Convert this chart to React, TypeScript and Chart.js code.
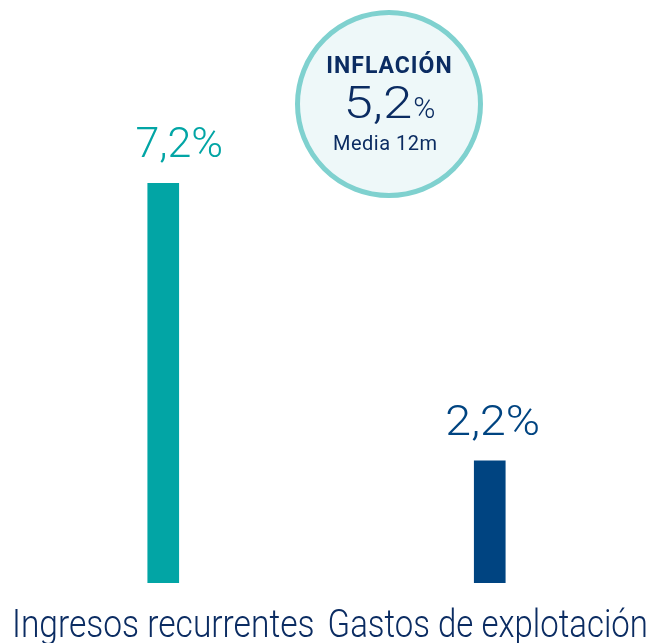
import React, { useEffect, useRef } from "react";
import { Chart, registerables } from "chart.js";

Chart.register(...registerables);

const categories = ["Ingresos recurrentes", "Gastos de explotación"];
const values = [7.2, 2.2];
const valueLabels = ["7,2%", "2,2%"];
const barColors = ["#02A5A5", "#004481"];
const inflationTitle = "INFLACIÓN";
const inflationValue = "5,2";
const inflationSub = "Media 12m";

const FONT = "Roboto, 'Noto Sans', sans-serif";
const NAVY = "#0B2C62";

const valueLabelPlugin = {
  id: "valueLabels",
  afterDatasetsDraw(chart: any) {
    const ctx = chart.ctx;
    const meta = chart.getDatasetMeta(0);
    const dx = [16, 3];
    const stretch = [1.0, 1.08];
    ctx.save();
    ctx.textAlign = "center";
    ctx.textBaseline = "alphabetic";
    ctx.font = `300 43px ${FONT}`;
    meta.data.forEach((bar: any, i: number) => {
      ctx.save();
      ctx.fillStyle = barColors[i];
      ctx.translate(bar.x + dx[i], bar.y - 26);
      ctx.scale(stretch[i], 1);
      ctx.fillText(valueLabels[i], 0, 0);
      ctx.restore();
    });
    ctx.restore();
  },
};

const categoryLabelPlugin = {
  id: "categoryLabels",
  afterDraw(chart: any) {
    const ctx = chart.ctx;
    const xScale = chart.scales.x;
    ctx.save();
    ctx.fillStyle = NAVY;
    ctx.textAlign = "center";
    ctx.textBaseline = "alphabetic";
    ctx.font = `300 39px ${FONT}`;
    const squeeze = [0.86, 0.845];
    const dx = [0, -2];
    categories.forEach((label, i) => {
      const x = xScale.getPixelForValue(i) + dx[i];
      ctx.save();
      ctx.translate(x, chart.chartArea.bottom + 54);
      ctx.scale(squeeze[i], 1);
      ctx.fillText(label, 0, 0);
      ctx.restore();
    });
    ctx.restore();
  },
};

const inflationPlugin = {
  id: "inflationBadge",
  afterDraw(chart: any) {
    const ctx = chart.ctx;
    const cx = 389;
    const cy = 104;
    ctx.save();
    ctx.beginPath();
    ctx.arc(cx, cy, 91.5, 0, Math.PI * 2);
    ctx.fillStyle = "#EEF8F9";
    ctx.fill();
    ctx.lineWidth = 5;
    ctx.strokeStyle = "#7FD1CF";
    ctx.stroke();

    ctx.fillStyle = NAVY;
    ctx.textAlign = "left";
    ctx.textBaseline = "alphabetic";

    const drawCentered = (text: string, font: string, spacing: number, y: number, dx = 0) => {
      ctx.font = font;
      (ctx as any).letterSpacing = `${spacing}px`;
      const w = ctx.measureText(text).width - spacing;
      ctx.fillText(text, cx + dx - w / 2, y);
      (ctx as any).letterSpacing = "0px";
    };

    drawCentered(inflationTitle, `700 23px ${FONT}`, 1, 73, 0);

    const stretch = 1.2;
    ctx.font = `300 44px ${FONT}`;
    const w1 = ctx.measureText(inflationValue).width * stretch;
    ctx.font = `300 30px ${FONT}`;
    const w2 = ctx.measureText("%").width;
    const start = cx - (w1 + w2) / 2;
    ctx.save();
    ctx.translate(start, 118);
    ctx.scale(stretch, 1);
    ctx.font = `300 44px ${FONT}`;
    ctx.fillText(inflationValue, 0, 0);
    ctx.restore();
    ctx.font = `300 30px ${FONT}`;
    ctx.fillText("%", start + w1 + 1, 118);

    drawCentered(inflationSub, `400 20px ${FONT}`, 0.5, 150, -4);
    ctx.restore();
  },
};

export default function App() {
  const ref = useRef<HTMLCanvasElement>(null);

  useEffect(() => {
    let chart: Chart | null = null;
    let cancelled = false;
    const make = () => {
      if (cancelled || !ref.current) return;
      chart = new Chart(ref.current, {
        type: "bar",
        data: {
          labels: categories,
          datasets: [
            {
              data: values,
              backgroundColor: barColors,
              barThickness: 31,
              borderWidth: 0,
            },
          ],
        },
        options: {
          animation: false,
          responsive: false,
          maintainAspectRatio: false,
          layout: { padding: { top: 0, left: 0, right: 0, bottom: 60 } },
          plugins: {
            legend: { display: false },
            tooltip: { enabled: false },
          },
          scales: {
            x: {
              display: false,
            },
            y: {
              display: false,
              min: 0,
              max: 10.5,
            },
          },
        },
        plugins: [valueLabelPlugin, categoryLabelPlugin, inflationPlugin],
      });
    };
    const fonts = (document as any).fonts;
    if (fonts && fonts.load) {
      Promise.all([
        fonts.load(`300 43px Roboto`),
        fonts.load(`700 23px Roboto`),
        fonts.load(`400 20px Roboto`),
      ])
        .catch(() => {})
        .then(make);
    } else {
      make();
    }
    return () => {
      cancelled = true;
      if (chart) chart.destroy();
    };
  }, []);

  return (
    <div style={{ position: "absolute", left: 0, top: 0, width: 653, height: 643, background: "#fff" }}>
      <canvas ref={ref} width={653} height={643} style={{ display: "block", width: 653, height: 643 }} />
    </div>
  );
}
